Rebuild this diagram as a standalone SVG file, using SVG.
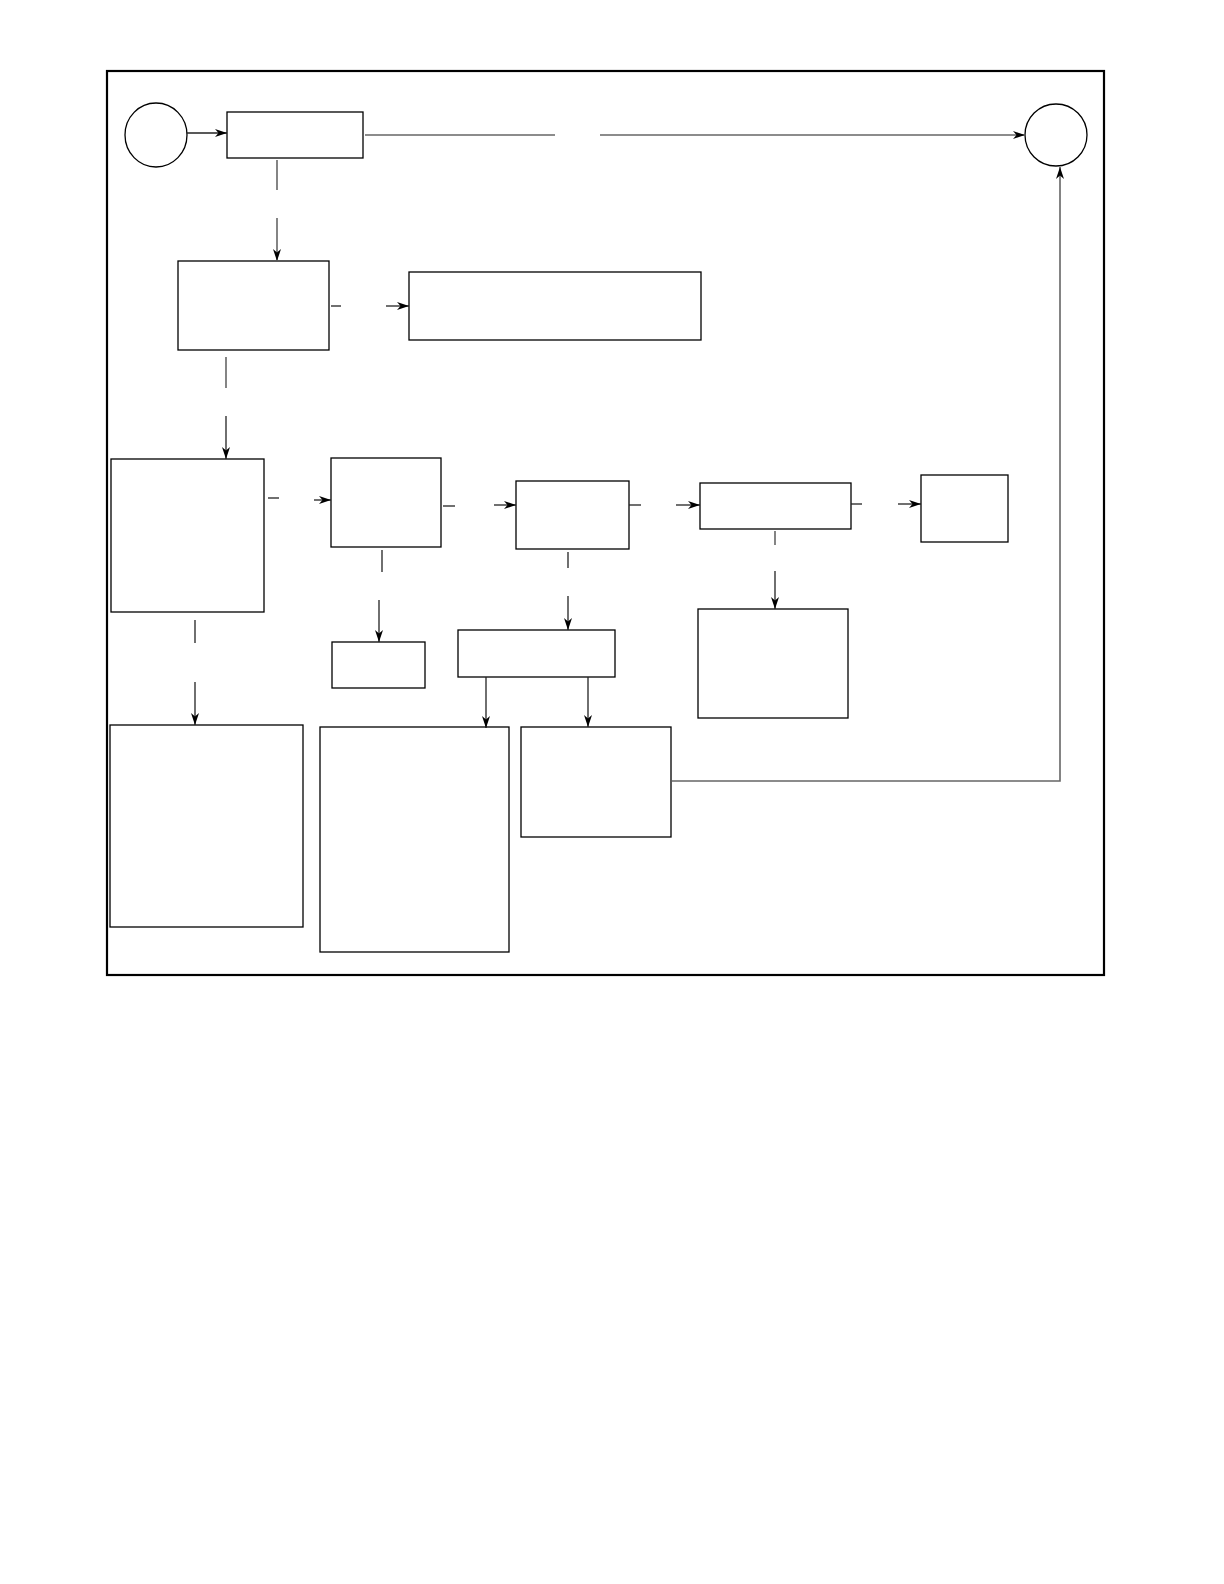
<svg xmlns="http://www.w3.org/2000/svg" width="1224" height="1584" viewBox="0 0 1224 1584">
<defs>
<marker id="ah" markerWidth="14" markerHeight="10" refX="12" refY="4.5" orient="auto" markerUnits="userSpaceOnUse">
<path d="M0,0.5 L12,4.5 L0,8.5 L3.5,4.5 z" fill="#000"/>
</marker>
<style>
.n{fill:#fff;stroke:#000;stroke-width:1.3}
.c{fill:none;stroke:#222;stroke-width:1.3}
.g{fill:none;stroke:#666;stroke-width:1.6}
.a{marker-end:url(#ah)}
</style>
</defs>
<rect width="1224" height="1584" fill="#fff"/>
<rect x="107" y="71" width="997" height="904" fill="none" stroke="#000" stroke-width="2.2"/>
<g id="start"><ellipse class="n" cx="156" cy="135" rx="31" ry="32"/></g>
<g id="end"><circle class="n" cx="1056" cy="135" r="31"/></g>
<g id="nodeA"><rect class="n" x="227" y="112" width="136" height="46"/></g>
<g id="nodeB"><rect class="n" x="178" y="261" width="151" height="89"/></g>
<g id="nodeC"><rect class="n" x="409" y="272" width="292" height="68"/></g>
<g id="nodeD"><rect class="n" x="111" y="459" width="153" height="153"/></g>
<g id="nodeE"><rect class="n" x="331" y="458" width="110" height="89"/></g>
<g id="nodeF"><rect class="n" x="516" y="481" width="113" height="68"/></g>
<g id="nodeG"><rect class="n" x="700" y="483" width="151" height="46"/></g>
<g id="nodeH"><rect class="n" x="921" y="475" width="87" height="67"/></g>
<g id="nodeI"><rect class="n" x="332" y="642" width="93" height="46"/></g>
<g id="nodeJ"><rect class="n" x="458" y="630" width="157" height="47"/></g>
<g id="nodeK"><rect class="n" x="320" y="727" width="189" height="225"/></g>
<g id="nodeL"><rect class="n" x="521" y="727" width="150" height="110"/></g>
<g id="nodeM"><rect class="n" x="698" y="609" width="150" height="109"/></g>
<g id="nodeN"><rect class="n" x="110" y="725" width="193" height="202"/></g>
<g id="connectors">
<line class="c a" x1="187" y1="133" x2="227" y2="133"/>
<line class="g" x1="365" y1="135" x2="555" y2="135"/>
<line class="g a" x1="600" y1="135" x2="1025" y2="135"/>
<line class="g" x1="277" y1="160" x2="277" y2="190"/>
<line class="g a" x1="277" y1="218" x2="277" y2="261"/>
<line class="c" x1="331" y1="306" x2="341" y2="306"/>
<line class="c a" x1="386" y1="306" x2="409" y2="306"/>
<line class="g" x1="226" y1="357" x2="226" y2="388"/>
<line class="c a" x1="226" y1="416" x2="226" y2="459"/>
<line class="c" x1="268" y1="498" x2="279" y2="498"/>
<line class="c a" x1="314" y1="500" x2="331" y2="500"/>
<line class="c" x1="443" y1="506" x2="455" y2="506"/>
<line class="c a" x1="494" y1="505" x2="516" y2="505"/>
<line class="c" x1="629" y1="505" x2="641" y2="505"/>
<line class="c a" x1="676" y1="505" x2="700" y2="505"/>
<line class="c" x1="851" y1="504" x2="862" y2="504"/>
<line class="c a" x1="898" y1="504" x2="921" y2="504"/>
<line class="c" x1="382" y1="550" x2="382" y2="572"/>
<line class="c a" x1="379" y1="600" x2="379" y2="642"/>
<line class="c" x1="568" y1="552" x2="568" y2="568"/>
<line class="c a" x1="568" y1="596" x2="568" y2="630"/>
<line class="c a" x1="486" y1="677" x2="486" y2="728"/>
<line class="c a" x1="588" y1="677" x2="588" y2="727"/>
<polyline class="g a" points="672,781 1060,781 1060,167"/>
<line class="g" x1="775" y1="531" x2="775" y2="545"/>
<line class="c a" x1="775" y1="571" x2="775" y2="609"/>
<line class="c" x1="195" y1="620" x2="195" y2="643"/>
<line class="c a" x1="195" y1="682" x2="195" y2="725"/>
</g>
</svg>
